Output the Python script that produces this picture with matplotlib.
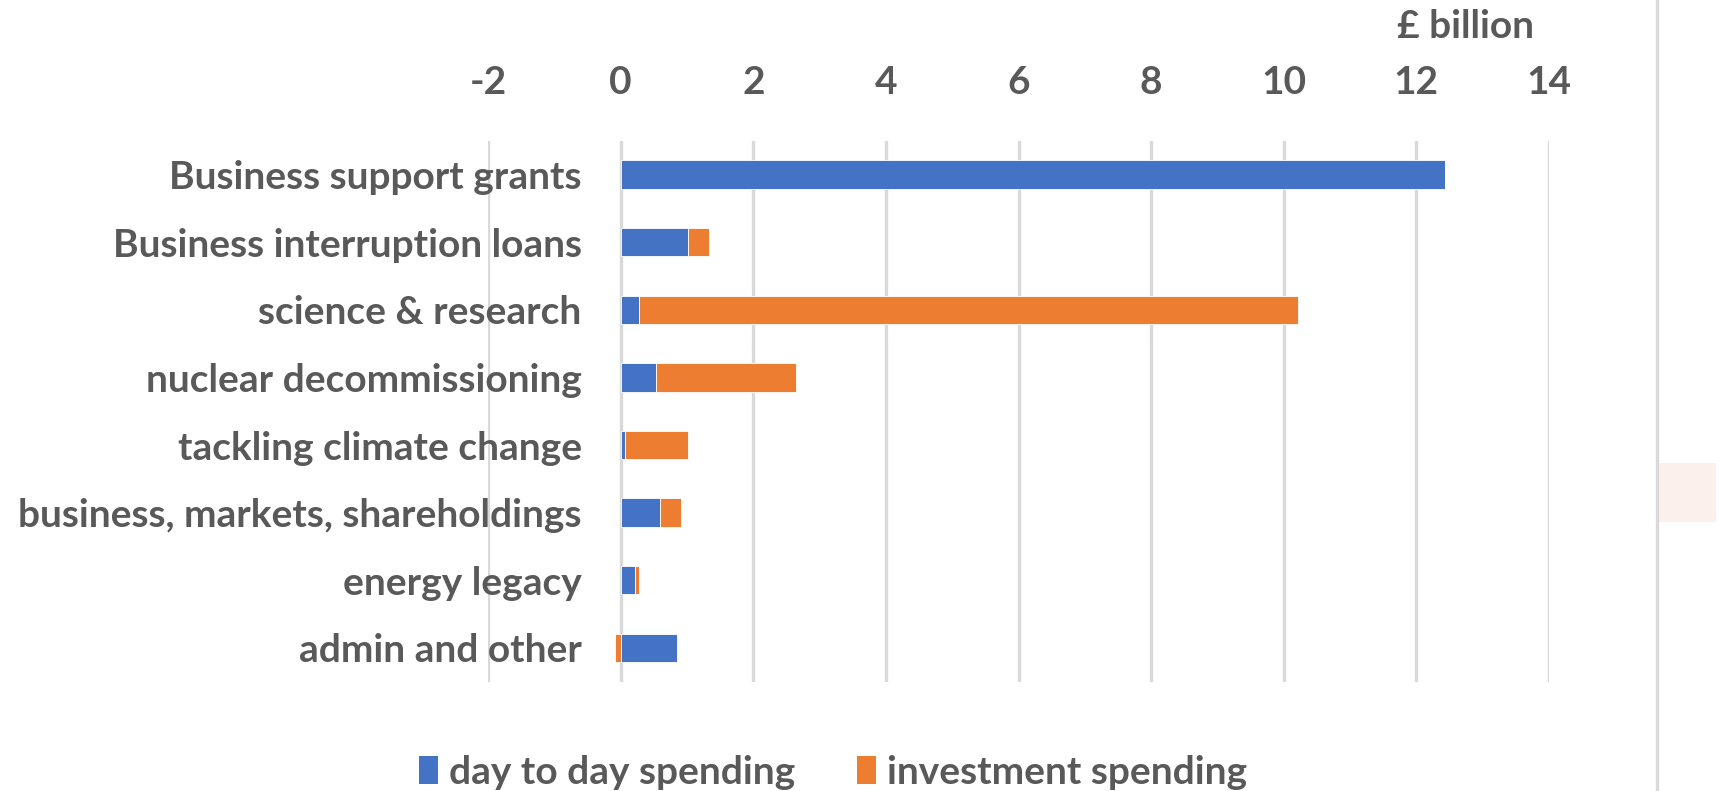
import matplotlib
matplotlib.use("Agg")
import matplotlib.pyplot as plt
from matplotlib.patches import Rectangle, Patch
from matplotlib.lines import Line2D

categories = ["Business support grants", "Business interruption loans", "science & research",
              "nuclear decommissioning", "tackling climate change", "business, markets, shareholdings",
              "energy legacy", "admin and other"]
day_to_day = [12.43, 1.01, 0.28, 0.54, 0.07, 0.59, 0.22, 0.85]
investment = [0.0, 0.32, 9.94, 2.10, 0.94, 0.32, 0.06, -0.09]
x_ticks = [-2, 0, 2, 4, 6, 8, 10, 12, 14]

BLUE = "#4472C4"
ORANGE = "#ED7D31"
TEXT = "#595959"
GRID = "#D9D9D9"
FS = 28

plt.rcParams['font.family'] = ['Lato', 'DejaVu Sans']
plt.rcParams['font.weight'] = 'bold'

W, H = 1721, 791
fig = plt.figure(figsize=(W / 100, H / 100), dpi=100)
ax = fig.add_axes([488 / W, 1 - 681.7 / H, (1549 - 488) / W, (681.7 - 140.7) / H])

ypos = list(range(len(categories)))
ax.barh(ypos, day_to_day, height=0.42, color=BLUE, edgecolor="white", linewidth=0.6,
        label="day to day spending", zorder=3)
inv_left = [d if v >= 0 else 0 for d, v in zip(day_to_day, investment)]
ax.barh(ypos, investment, left=inv_left, height=0.42, color=ORANGE, edgecolor="white",
        linewidth=0.6, label="investment spending", zorder=3)

ax.set_xlim(-2, 14)
ax.set_ylim(7.5, -0.5)
ax.set_xticks(x_ticks)
ax.set_xticklabels([str(t) for t in x_ticks])
ax.xaxis.tick_top()
ax.grid(axis='x', color=GRID, linewidth=2.4, zorder=0)
ax.set_axisbelow(True)
for s in ax.spines.values():
    s.set_visible(False)
ax.spines['left'].set_position(('data', 0))
ax.set_yticks(ypos)
ax.set_yticklabels(categories)
ax.tick_params(axis='x', length=0, pad=29, labelsize=FS, labelcolor=TEXT)
ax.tick_params(axis='y', length=0, pad=28, labelsize=FS, labelcolor=TEXT)
for lab in ax.get_xticklabels() + ax.get_yticklabels():
    lab.set_fontweight('bold')

fig.text(1465.5 / W, 1 - 38 / H, "£ billion", ha='center', va='baseline',
         fontsize=FS, color=TEXT, fontweight='bold')

fig.add_artist(Line2D([1657 / W, 1657 / W], [0, 1], color=GRID, linewidth=2.4,
                      transform=fig.transFigure))
fig.add_artist(Rectangle((1658.7 / W, 1 - 521.7 / H), (1716 - 1658.7) / W, 59 / H,
                         facecolor="#FBF0EA", edgecolor="none", transform=fig.transFigure))

handles = [Patch(facecolor=BLUE, edgecolor='none'), Patch(facecolor=ORANGE, edgecolor='none')]
leg = fig.legend(handles, ["day to day spending", "investment spending"], loc='center',
                 bbox_to_anchor=(833 / W, 1 - 772 / H), ncol=2, frameon=False,
                 fontsize=FS, handlelength=0.48, handleheight=0.7, handletextpad=0.28,
                 columnspacing=1.6)
for t in leg.get_texts():
    t.set_color(TEXT)
    t.set_fontweight('bold')

fig.savefig("out.png", dpi=100)
